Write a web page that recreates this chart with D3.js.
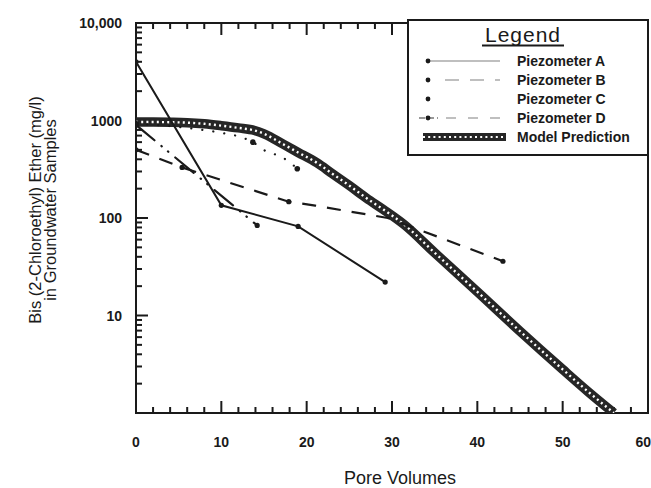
<!DOCTYPE html>
<html>
<head>
<meta charset="utf-8">
<script src="https://cdn.jsdelivr.net/npm/d3@7"></script>
<style>
  html, body { margin: 0; padding: 0; background: #fff; }
  svg { display: block; font-family: "Liberation Sans", Arial, sans-serif; }
</style>
</head>
<body>
<svg id="chart" width="651" height="488"></svg>
<script>
// ---------- data ----------
const xTickValues = [0, 10, 20, 30, 40, 50, 60];
const yTickValues = [10, 100, 1000, 10000];
const yTickLabels = ["10", "100", "1000", "10,000"];

const pvA   = [0, 10, 19, 29.2];
const concA = [4000, 135, 82, 22];

const pvB   = [0, 5.4, 17.9, 21, 29.5, 43];
const concB = [500, 330, 147, 134, 100, 36];

const pvC   = [0, 6, 9.5, 12.4, 13.7, 15.3, 16.9, 18.4, 18.9];
const concC = [930, 840, 760, 670, 600, 480, 430, 350, 320];

const pvD   = [0, 14.2];
const concD = [900, 84];

const pvModel   = [0, 2, 4, 6, 8, 10, 12, 13.9, 15, 17.3, 19, 21.2, 23, 25.1, 27, 29, 31.4, 35, 40, 45, 50, 53, 56];
const concModel = [965, 965, 960, 950, 925, 885, 840, 790, 730, 568, 470, 368, 285, 212, 160, 122, 86, 44, 17.5, 6.9, 2.8, 1.65, 1.0];

const legendLabels = ["Piezometer A", "Piezometer B", "Piezometer C", "Piezometer D", "Model Prediction"];
const xTitle = "Pore Volumes";
const yTitle1 = "Bis (2-Chloroethyl) Ether (mg/l)";
const yTitle2 = "in Groundwater Samples";

// ---------- layout ----------
const svg = d3.select("#chart");
const L = 136, R = 648, T = 23, B = 413;
const ink = "#1a1a1a";

const x = d3.scaleLinear().domain([0, 60]).range([L, R]);
const y = d3.scaleLog().domain([1, 10000]).range([B, T]);

const zip = (a, b) => a.map((v, i) => [v, b[i]]);
const line = d3.line().x(d => x(d[0])).y(d => y(d[1]));
const smooth = d3.line().x(d => x(d[0])).y(d => y(d[1])).curve(d3.curveMonotoneX);

svg.append("defs").append("clipPath").attr("id", "plotclip")
  .append("rect").attr("x", L).attr("y", T).attr("width", R - L).attr("height", B - T);

// ---------- axes ----------
const minorX = d3.range(2, 60, 2).filter(v => v % 10 !== 0);
const yMinor = [];
[1, 10, 100, 1000].forEach(d => { for (let k = 2; k <= 9; k++) yMinor.push(d * k); });

const axes = svg.append("g");
axes.append("rect").attr("x", L).attr("y", T).attr("width", R - L).attr("height", B - T)
  .attr("fill", "none").attr("stroke", ink).attr("stroke-width", 2);

// x ticks (bottom and top, pointing inward)
[[B, -1], [T, 1]].forEach(([base, dir]) => {
  axes.append("g").selectAll("line").data(xTickValues).join("line")
    .attr("x1", d => x(d)).attr("x2", d => x(d))
    .attr("y1", base).attr("y2", base + dir * 12)
    .attr("stroke", ink).attr("stroke-width", 2);
  axes.append("g").selectAll("line").data(minorX).join("line")
    .attr("x1", d => x(d)).attr("x2", d => x(d))
    .attr("y1", base).attr("y2", base + dir * 6)
    .attr("stroke", ink).attr("stroke-width", 2);
});
// y ticks (left, pointing inward)
axes.append("g").selectAll("line").data(yTickValues).join("line")
  .attr("x1", L).attr("x2", L + 12).attr("y1", d => y(d)).attr("y2", d => y(d))
  .attr("stroke", ink).attr("stroke-width", 2);
axes.append("g").selectAll("line").data(yMinor).join("line")
  .attr("x1", L).attr("x2", L + 6).attr("y1", d => y(d)).attr("y2", d => y(d))
  .attr("stroke", ink).attr("stroke-width", 2);

// tick labels
axes.append("g").selectAll("text").data(xTickValues).join("text")
  .attr("x", d => d === 60 ? 651 : x(d)).attr("y", 447)
  .attr("text-anchor", d => d === 60 ? "end" : "middle")
  .attr("font-size", 14).attr("font-weight", "bold").attr("fill", ink)
  .text(d => d3.format("d")(d));
axes.append("g").selectAll("text").data(yTickValues).join("text")
  .attr("x", 122).attr("y", d => y(d) + 5)
  .attr("text-anchor", "end")
  .attr("font-size", 14).attr("font-weight", "bold").attr("fill", ink)
  .text((d, i) => yTickLabels[i]);

// ---------- titles ----------
svg.append("text").attr("x", 400).attr("y", 484).attr("text-anchor", "middle")
  .attr("font-size", 18).attr("fill", ink).text(xTitle);
const yt = svg.append("text").attr("transform", `translate(41,${210}) rotate(-90)`)
  .attr("text-anchor", "middle").attr("font-size", 16.5).attr("fill", ink);
yt.append("tspan").attr("x", 0).attr("dy", 0).text(yTitle1);
yt.append("tspan").attr("x", 0).attr("dy", 15).text(yTitle2);

// ---------- series ----------
const plot = svg.append("g").attr("clip-path", "url(#plotclip)");

// Model prediction: thick band of overlapping x / o markers
const modelData = zip(pvModel, concModel);
plot.append("path").datum(modelData).attr("d", smooth)
  .attr("fill", "none").attr("stroke", "#262626").attr("stroke-width", 9.5);
plot.append("path").datum(modelData).attr("d", smooth)
  .attr("fill", "none").attr("stroke", "#fff").attr("stroke-width", 2.4)
  .attr("stroke-dasharray", "2,3.2");

// Piezometer A: solid
const dataA = zip(pvA, concA);
plot.append("path").datum(dataA).attr("d", line)
  .attr("fill", "none").attr("stroke", ink).attr("stroke-width", 2);
plot.append("g").selectAll("circle").data(dataA).join("circle")
  .attr("cx", d => x(d[0])).attr("cy", d => y(d[1])).attr("r", 2.6).attr("fill", ink);

// Piezometer B: long dash
const dataB = zip(pvB, concB);
plot.append("path").datum(dataB).attr("d", line)
  .attr("fill", "none").attr("stroke", ink).attr("stroke-width", 2.2)
  .attr("stroke-dasharray", "14,11");
plot.append("g").selectAll("circle").data(dataB.filter((d, i) => i !== 3 && i !== 4)).join("circle")
  .attr("cx", d => x(d[0])).attr("cy", d => y(d[1])).attr("r", 2.6).attr("fill", ink);

// Piezometer C: dotted
const dataC = zip(pvC, concC);
plot.append("path").datum(dataC).attr("d", smooth)
  .attr("fill", "none").attr("stroke", ink).attr("stroke-width", 2.2)
  .attr("stroke-linecap", "round").attr("stroke-dasharray", "0.1,11");
plot.append("g").selectAll("circle").data(dataC.filter((d, i) => i === 0 || i === 4 || i === dataC.length - 1)).join("circle")
  .attr("cx", d => x(d[0])).attr("cy", d => y(d[1])).attr("r", 2.8).attr("fill", ink);

// Piezometer D: dash-dot-dot
const dataD = zip(pvD, concD);
plot.append("path").datum(dataD).attr("d", line)
  .attr("fill", "none").attr("stroke", ink).attr("stroke-width", 2.2)
  .attr("stroke-linecap", "round").attr("stroke-dasharray", "24,9,0.5,8,0.5,9");
plot.append("g").selectAll("circle").data(dataD).join("circle")
  .attr("cx", d => x(d[0])).attr("cy", d => y(d[1])).attr("r", 2.6).attr("fill", ink);

// ---------- legend ----------
const lg = svg.append("g");
const LX0 = 408, LY0 = 20, LX1 = 648, LY1 = 155;
lg.append("rect").attr("x", LX0).attr("y", LY0).attr("width", LX1 - LX0).attr("height", LY1 - LY0)
  .attr("fill", "#fff").attr("stroke", ink).attr("stroke-width", 2);
lg.append("text").attr("x", 523).attr("y", 42).attr("text-anchor", "middle")
  .attr("font-size", 21).attr("letter-spacing", 1).attr("fill", ink).text("Legend");
lg.append("line").attr("x1", 482).attr("x2", 564).attr("y1", 45.5).attr("y2", 45.5)
  .attr("stroke", ink).attr("stroke-width", 1.8);

const rowY = [61, 80, 99, 118, 137];
legendLabels.forEach((t, i) => {
  lg.append("text").attr("x", 517).attr("y", rowY[i] + 5).attr("font-size", 14)
    .attr("font-weight", "bold").attr("fill", ink).text(t);
});
const lgLine = (x1, x2, yy, dash) => lg.append("line").attr("x1", x1).attr("x2", x2)
  .attr("y1", yy).attr("y2", yy).attr("stroke", "#aaa").attr("stroke-width", 1.6)
  .attr("stroke-dasharray", dash);
const lgDot = (cx, cy) => lg.append("circle").attr("cx", cx).attr("cy", cy).attr("r", 2.4).attr("fill", ink);
lgLine(430, 500, rowY[0], null); lgDot(428, rowY[0]);
lgLine(445, 500, rowY[1], "14,11"); lgDot(428, rowY[1]);
lgDot(428, rowY[2]);
lg.append("line").attr("x1", 419).attr("x2", 438).attr("y1", rowY[3]).attr("y2", rowY[3])
  .attr("stroke", "#777").attr("stroke-width", 1.6).attr("stroke-dasharray", "6,3");
lgLine(446, 500, rowY[3], "10,12"); lgDot(428, rowY[3]);
lg.append("line").attr("x1", 423).attr("x2", 506).attr("y1", rowY[4]).attr("y2", rowY[4])
  .attr("stroke", "#262626").attr("stroke-width", 8);
lg.append("line").attr("x1", 423).attr("x2", 506).attr("y1", rowY[4]).attr("y2", rowY[4])
  .attr("stroke", "#fff").attr("stroke-width", 2.2).attr("stroke-dasharray", "2,3.2");
</script>
</body>
</html>
